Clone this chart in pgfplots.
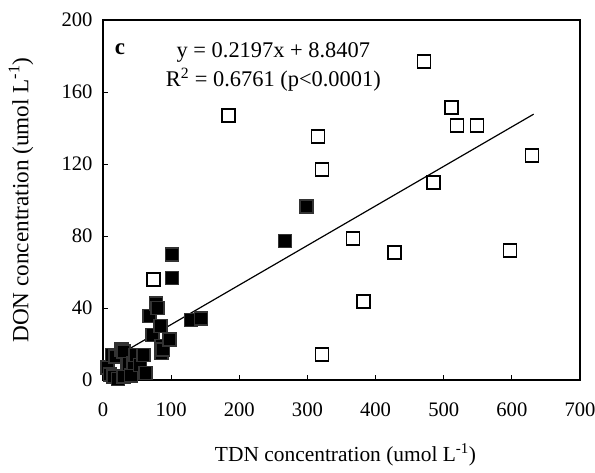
\documentclass[border=0pt]{standalone}
\usepackage{pgfplots}
\pgfplotsset{compat=1.18}
\usepackage{fontspec}
\setmainfont{Liberation Serif}
\begin{document}
\begin{tikzpicture}
\begin{axis}[
  scale only axis,
  width=477bp, height=360bp,
  xmin=0, xmax=700, ymin=0, ymax=200,
  xtick={0,100,...,700}, ytick={0,40,...,200},
  tick align=inside, xtick pos=bottom, ytick pos=left,
  major tick length=5bp,
  axis line style={line width=1.2pt},
  tick style={line width=0.8pt, black},
  /pgf/number format/assume math mode=true,
  ticklabel style={font=\fontsize{20.7}{24}\selectfont},
  xticklabel style={anchor=center, yshift=-30bp},
  yticklabel style={anchor=east, xshift=-7bp},
  xlabel={TDN concentration (umol L\textsuperscript{-1})},
  ylabel={DON concentration (umol L\textsuperscript{-1})},
  xlabel style={font=\fontsize{21.5}{25}\selectfont, at={(axis description cs:0.5,0)}, anchor=center, yshift=-75bp, xshift=4bp},
  ylabel style={font=\fontsize{23.3}{27}\selectfont, at={(axis description cs:0,0.5)}, anchor=center, yshift=82bp},
  clip=false,
]
\addplot[only marks, mark=square*, mark size=6.5bp,
  mark options={fill=white, draw=black, line width=1.6pt}] coordinates {
(471,176.8) (183.8,147) (511,151.4) (519.4,141.4) (548.6,141.4)
(315.3,135.4) (321.5,117) (629.6,124.7) (485,109.6) (367,78.5)
(427.8,70.7) (597,72) (382,43.5) (321.5,14.2) (74.2,55.8)
};
\addplot[only marks, mark=square*, mark size=6.5bp,
  mark options={fill=black, draw=black!80, line width=1.6pt}] coordinates {
(7,7) (10,3) (13,14) (15,2) (18,13) (22,0.5) (27,17) (30,15.7) (30,1.8)
(35,8.8) (37,9) (41,2.4) (45,9.5) (48,13.8) (54,8.3) (59,14) (62,4)
(68,35.5) (73,25) (78,42.5) (80,40) (84,30) (86,19) (86,15) (88,17)
(98,22.5) (101,69.6) (101,56.7) (129,33.3) (144,34.3) (267,77.2) (298.5,96.3)
};
\addplot[black, line width=1.2pt] coordinates {(10,11.04) (632,147.69)};
\node[font=\fontsize{23}{26}\selectfont\bfseries, anchor=base] at (axis cs:25,181) {c};
\node[font=\fontsize{22.5}{26}\selectfont, anchor=base] at (axis cs:250,179.3) {y = 0.2197x + 8.8407};
\node[font=\fontsize{22.5}{26}\selectfont, anchor=base] at (axis cs:250,163.3) {R\textsuperscript{2} = 0.6761 (p<0.0001)};
\coordinate (sw) at (rel axis cs:0,0);
\coordinate (ne) at (rel axis cs:1,1);
\end{axis}
\pgfresetboundingbox
\path[use as bounding box] ([shift={(-103bp,-92bp)}]sw) rectangle ([shift={(15bp,20bp)}]ne);
\end{tikzpicture}
\end{document}
